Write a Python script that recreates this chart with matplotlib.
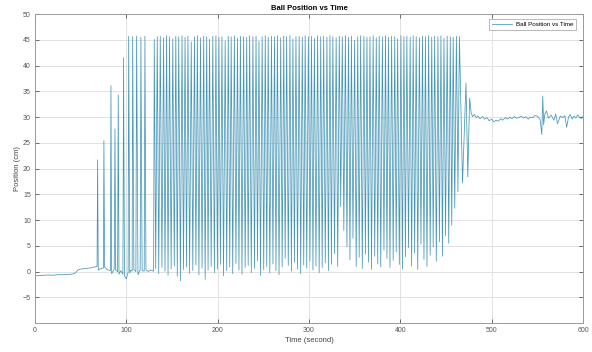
import numpy as np
import matplotlib
matplotlib.use("Agg")
import matplotlib.pyplot as plt

# Resting position before the ball is launched (s, cm)
pre_t = [0, 5, 10, 15, 20, 25, 30, 35, 40, 44, 47, 50, 55, 60, 65, 68]
pre_y = [-0.7, -0.75, -0.7, -0.65, -0.7, -0.6, -0.6, -0.55, -0.5, -0.3, 0.3, 0.5, 0.6, 0.7, 0.9, 1.0]

# Flat stretches between the first isolated bounces
rest_t = [72.0, 74.9, 79.0, 82.6, 86.8, 90.5, 94.0, 96.3, 100.0, 102.0, 105.0, 106.4,
          110.5, 115.2, 119.6, 124.0, 126.5, 129.9]
rest_y = [0.6, 0.7, 0.4, 0.2, 0.5, 0.0, 0.2, -0.5, -1.4, -0.1, 0.3, 0.1,
          0.0, 0.4, 0.1, 0.0, 0.3, 0.1]

# Bounce maxima
peak_t = [68.6, 75.5, 83.2, 87.6, 91.2, 97.0, 102.6, 107.0, 111.3, 116.0, 120.4,
          130.6, 133.9, 137.2, 140.8, 144.1, 147.3, 150.9, 154.2, 157.4, 161.0,
          164.3, 167.5, 171.1, 174.6, 177.8, 181.2, 184.7, 188.0, 191.1, 194.7,
          198.1, 201.4, 204.7, 208.2, 211.6, 214.8, 218.3, 221.7, 224.9, 228.4,
          231.8, 235.0, 238.6, 242.0, 245.2, 248.7, 252.1, 255.3, 258.9, 262.2,
          265.4, 269.0, 272.3, 275.5, 279.1, 282.4, 285.7, 289.2, 292.6, 295.8,
          299.3, 302.7, 305.9, 309.4, 312.8, 316.0, 319.6, 322.9, 326.1, 329.7,
          333.1, 336.4, 339.8, 343.2, 346.4, 349.9, 353.3, 356.5, 360.1, 363.4,
          366.7, 370.2, 373.6, 376.8, 380.3, 383.7, 386.9, 390.4, 393.8, 397.0,
          400.6, 403.9, 407.1, 410.7, 414.0, 417.3, 420.8, 424.2, 427.4, 430.9,
          434.3, 437.5, 441.1, 444.4, 447.7, 451.2, 454.6, 457.8, 461.3, 464.6,
          471.8, 475.8]
peak_y = [21.7, 25.4, 36.1, 27.7, 34.3, 41.5, 45.7, 45.6, 45.7, 45.5, 45.7,
          45.1, 45.6, 45.7, 45.4, 45.8, 45.6, 45.2, 45.7, 45.6, 45.8,
          45.5, 45.7, 44.6, 45.6, 45.8, 45.4, 45.7, 45.6, 45.1, 45.7,
          45.8, 45.5, 45.6, 44.8, 45.7, 45.6, 45.8, 45.3, 45.7, 45.6,
          45.5, 45.8, 45.6, 45.7, 44.7, 45.6, 45.8, 45.5, 45.7, 45.6,
          45.8, 45.4, 45.7, 45.6, 45.8, 45.2, 45.6, 45.7, 45.5, 45.8,
          45.6, 45.7, 45.3, 45.8, 45.6, 45.7, 45.5, 45.8, 45.6, 45.4,
          45.7, 45.6, 45.8, 45.5, 45.7, 44.9, 45.6, 45.8, 45.7, 45.5,
          45.6, 45.8, 45.4, 45.7, 45.6, 45.8, 45.5, 45.7, 45.6, 45.2,
          45.8, 45.6, 45.7, 45.5, 45.8, 45.6, 45.4, 45.7, 45.6, 45.8,
          45.5, 45.7, 45.6, 45.8, 45.3, 45.7, 45.6, 45.5, 45.7, 45.6,
          36.6, 33.7]

# Bounce minima
trough_t = [69.3, 76.3, 84.0, 88.4, 92.0, 98.0, 103.8, 108.3, 112.8, 117.3, 121.5,
            132.2, 135.5, 139.0, 142.4, 145.7, 149.1, 152.5, 155.8, 159.2, 162.6,
            165.9, 169.3, 172.8, 176.2, 179.5, 182.9, 186.3, 189.5, 192.9, 196.4,
            199.7, 203.0, 206.4, 209.9, 213.2, 216.5, 220.0, 223.3, 226.6, 230.1,
            233.4, 236.8, 240.3, 243.6, 246.9, 250.4, 253.7, 257.1, 260.5, 263.8,
            267.2, 270.6, 273.9, 277.3, 280.7, 284.0, 287.4, 290.9, 294.2, 297.5,
            301.0, 304.3, 307.6, 311.1, 314.4, 317.8, 321.2, 324.5, 327.9, 331.4,
            334.7, 338.1, 341.5, 344.8, 348.1, 351.6, 354.9, 358.3, 361.7, 365.0,
            368.4, 371.9, 375.2, 378.5, 382.0, 385.3, 388.6, 392.1, 395.4, 398.8,
            402.2, 405.5, 408.9, 412.3, 415.6, 419.0, 422.5, 425.8, 429.1, 432.6,
            435.9, 439.3, 442.7, 446.0, 449.4, 452.9, 456.2, 459.5, 463.0, 468.0,
            473.8]
trough_y = [0.3, 0.9, -0.4, 0.3, -0.5, -0.8, -0.3, 0.4, -0.6, 0.2, 0.4,
            0.6, -0.4, 0.8, 0.1, -0.7, 0.5, 1.1, -0.9, -1.8, 0.4,
            0.9, -0.3, 0.2, 1.3, -0.6, 0.7, -1.5, 0.3, 1.0, -0.2,
            0.5, 1.4, -0.8, 0.2, 0.9, -0.4, 1.6, 0.3, -0.5, 0.8,
            1.2, -0.2, 0.6, 2.1, -0.7, 0.4, 1.0, -0.3, 1.5, 0.2,
            -0.6, 0.9, 2.6, 1.2, 0.1, 1.8, 0.5, -0.4, 1.3, 0.7,
            2.0, 0.3, 1.1, -0.2, 0.8, 1.7, 0.2, 1.4, 3.5, 1.0,
            12.6, 8.0, 4.8, 2.3, 6.5, 1.0, 2.8, 0.6, 3.4, 1.8,
            0.4, 3.0, 1.5, 0.9, 4.2, 2.6, 0.8, 2.2, 3.8, 1.4,
            0.5, 2.9, 4.6, 1.1, 3.6, 0.4, 5.3, 2.4, 1.0, 3.2,
            4.8, 2.0, 5.8, 3.0, 7.0, 5.5, 9.0, 12.3, 15.5, 17.2,
            18.4]

# Ball held near 30 cm once the controller settles
post_t = [477.5, 479, 481, 483, 485, 487, 490, 492, 495, 497, 500, 502, 505, 507,
          510, 512, 515, 517, 520, 522, 525, 527, 530, 532, 535, 537, 540, 542,
          545, 547, 550, 553, 554.8, 555.8, 556.8, 558, 560, 562, 565, 568, 570,
          572, 575, 578, 580, 582, 584, 586, 588, 590, 592, 594, 596, 598, 600]
post_y = [30.8, 30.1, 30.5, 29.9, 30.2, 29.7, 30.1, 29.6, 29.9, 29.3, 29.6, 29.1,
          29.4, 29.2, 29.7, 29.4, 29.9, 29.6, 30.0, 29.7, 30.1, 29.8, 29.9, 30.2,
          29.8, 30.1, 29.6, 30.0, 29.9, 30.3, 30.2, 29.5, 26.6, 34.1, 28.5, 30.5,
          31.2, 29.8, 30.4, 29.4, 30.6, 28.7, 30.2, 29.9, 30.3, 28.0, 30.0, 30.5,
          29.6, 30.2, 29.8, 30.4, 30.0, 29.7, 30.2]

t = np.concatenate([pre_t, rest_t, peak_t, trough_t, post_t])
y = np.concatenate([pre_y, rest_y, peak_y, trough_y, post_y])
order = np.argsort(t, kind="stable")
t, y = t[order], y[order]

plt.rcParams["font.family"] = ["Liberation Sans", "DejaVu Sans"]

fig = plt.figure(figsize=(5.92, 3.52), dpi=100)
ax = fig.add_axes([0.059, 0.082, 0.926, 0.878])

line_color = "#4696b6"
ax.plot(t, y, color=line_color, linewidth=0.55, label="Ball Position vs Time")

ax.set_xlim(0, 600)
ax.set_ylim(-10, 50)
ax.set_xticks(np.arange(0, 601, 100))
ax.set_yticks(np.arange(-5, 51, 5))

ax.grid(True, color="#e2e2e2", linewidth=0.7)
ax.set_axisbelow(True)
for s in ax.spines.values():
    s.set_color("#9a9a9a")
    s.set_linewidth(0.7)
ax.tick_params(direction="in", length=3, width=0.6, colors="#555555",
               labelsize=5, top=True, right=True, labelcolor="#555555", pad=3)

ax.set_title("Ball Position vs Time", fontsize=5.5, fontweight="bold", pad=3)
ax.set_xlabel("Time (second)", fontsize=5.5, color="#444444", labelpad=2)
ax.set_ylabel("Position (cm)", fontsize=5.5, color="#444444", labelpad=1)

leg = ax.legend(loc="upper right", fontsize=4.5, frameon=True, fancybox=False,
                edgecolor="#9a9a9a", handlelength=3.2, handletextpad=0.6,
                borderpad=0.45, bbox_to_anchor=(0.993, 0.995))
leg.get_frame().set_linewidth(0.6)

fig.savefig("out.png", dpi=100)
